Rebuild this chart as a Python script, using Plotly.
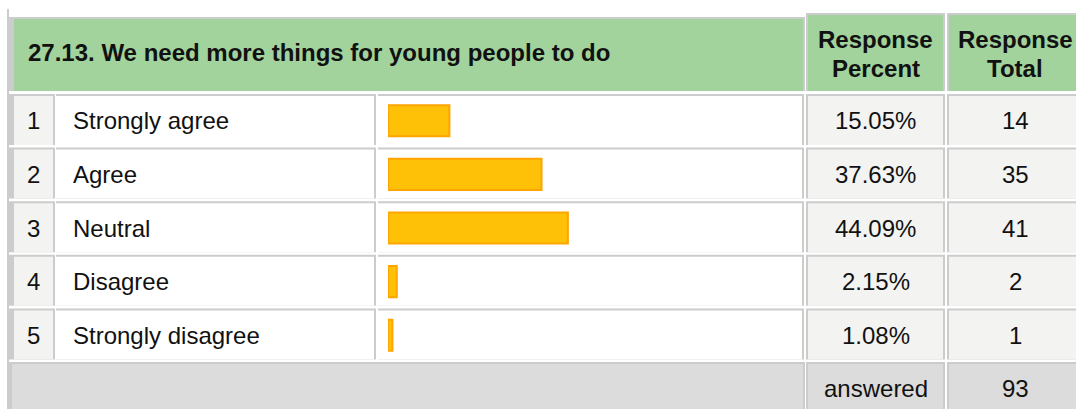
# survey question table: bars + percent / total columns
import plotly.graph_objects as go

question = "27.13. We need more things for young people to do"
row_nums = ["1", "2", "3", "4", "5"]
answers = ["Strongly agree", "Agree", "Neutral", "Disagree", "Strongly disagree"]
percents = [15.05, 37.63, 44.09, 2.15, 1.08]
totals = [14, 35, 41, 2, 1]
answered_total = 93

W, H = 1076, 409
ROW_TOP, PITCH = 94, 53.6
GRID = "#cccccc"
GREEN = "rgb(162,211,156)"
LIGHT = "rgb(243,243,241)"
GREY = "rgb(220,220,220)"
FONT = "Liberation Sans, Arial, sans-serif"


def px(x):
    return x / W


def py(y):
    return 1 - y / H


shapes = []


def rect(x0, y0, x1, y1, color):
    shapes.append(dict(type="rect", xref="paper", yref="paper", layer="below",
                       x0=px(x0), x1=px(x1), y0=py(y1), y1=py(y0),
                       fillcolor=color, line=dict(width=0)))


def cell(lx0, fx0, x1, y0, y1, color):
    # grey top + right border, then the fill
    rect(lx0, y0, x1, y1, GRID)
    rect(fx0, y0 + 2, x1 - 2, y1, color)


# outer left rule
rect(7, 9, 9, H, GRID)

# header
cell(8, 14, 805, 17, 91, GREEN)
cell(806, 808, 945, 13, 91, GREEN)
cell(947, 949, 1090, 13, 91, GREEN)

cols = [(8, 14, 55, LIGHT), (56, 56, 376, "white"), (378, 378, 804, "white"),
        (806, 808, 945, LIGHT), (947, 949, 1090, LIGHT)]
for i in range(len(answers)):
    top = ROW_TOP + PITCH * i
    for lx0, fx0, x1, c in cols:
        cell(lx0, fx0, x1, top, top + 51, c)

ans_top = ROW_TOP + PITCH * len(answers)
cell(8, 12, 805, ans_top, H + 5, GREY)
cell(806, 808, 945, ans_top, H + 5, GREY)
cell(947, 949, 1090, ans_top, H + 5, GREY)

fig = go.Figure()
fig.add_trace(go.Bar(
    y=answers, x=percents, orientation="h", width=0.58,
    marker=dict(color="rgb(255,193,8)", line=dict(color="rgb(255,165,0)", width=2)),
    hoverinfo="skip", showlegend=False,
))


def label(text, x, y, anchor="center", yref="paper", yanchor="middle"):
    return dict(text=text, xref="paper", yref=yref, x=px(x),
                y=py(y) if yref == "paper" else y,
                xanchor=anchor, yanchor=yanchor, showarrow=False, borderpad=0)


ann = [label("<b>" + question + "</b>", 27, 52, "left")]
# header lines are set tighter than plotly's own <br> spacing
ann += [label("<b>Response</b>", 875.5, 54, yanchor="bottom"),
        label("<b>Percent</b>", 875.5, 54, yanchor="top"),
        label("<b>Response</b>", 1015, 54, yanchor="bottom"),
        label("<b>Total</b>", 1015, 54, yanchor="top")]

for n, a, p, t in zip(row_nums, answers, percents, totals):
    ann.append(label(n, 33, a, yref="y"))
    ann.append(label(a, 72, a, "left", yref="y"))
    ann.append(label("%.2f%%" % p, 875.5, a, yref="y"))
    ann.append(label(str(t), 1015, a, yref="y"))

ann.append(label("answered", 875.5, 388))
ann.append(label(str(answered_total), 1015, 388))

fig.update_layout(
    width=W, height=H, margin=dict(l=0, r=0, t=0, b=0),
    paper_bgcolor="white", plot_bgcolor="rgba(0,0,0,0)",
    font=dict(family=FONT, size=24, color="#111111"),
    shapes=shapes, annotations=ann,
    xaxis=dict(range=[0, 100], domain=[px(388), px(796)], visible=False, fixedrange=True),
    yaxis=dict(type="category", categoryorder="array", categoryarray=answers,
               range=[len(answers) - 0.5, -0.5],
               domain=[py(ROW_TOP + PITCH * len(answers)), py(ROW_TOP)],
               visible=False, fixedrange=True),
)

fig.write_html("out.html", config={"displayModeBar": False},
               post_script="document.body.style.margin='0px';")
